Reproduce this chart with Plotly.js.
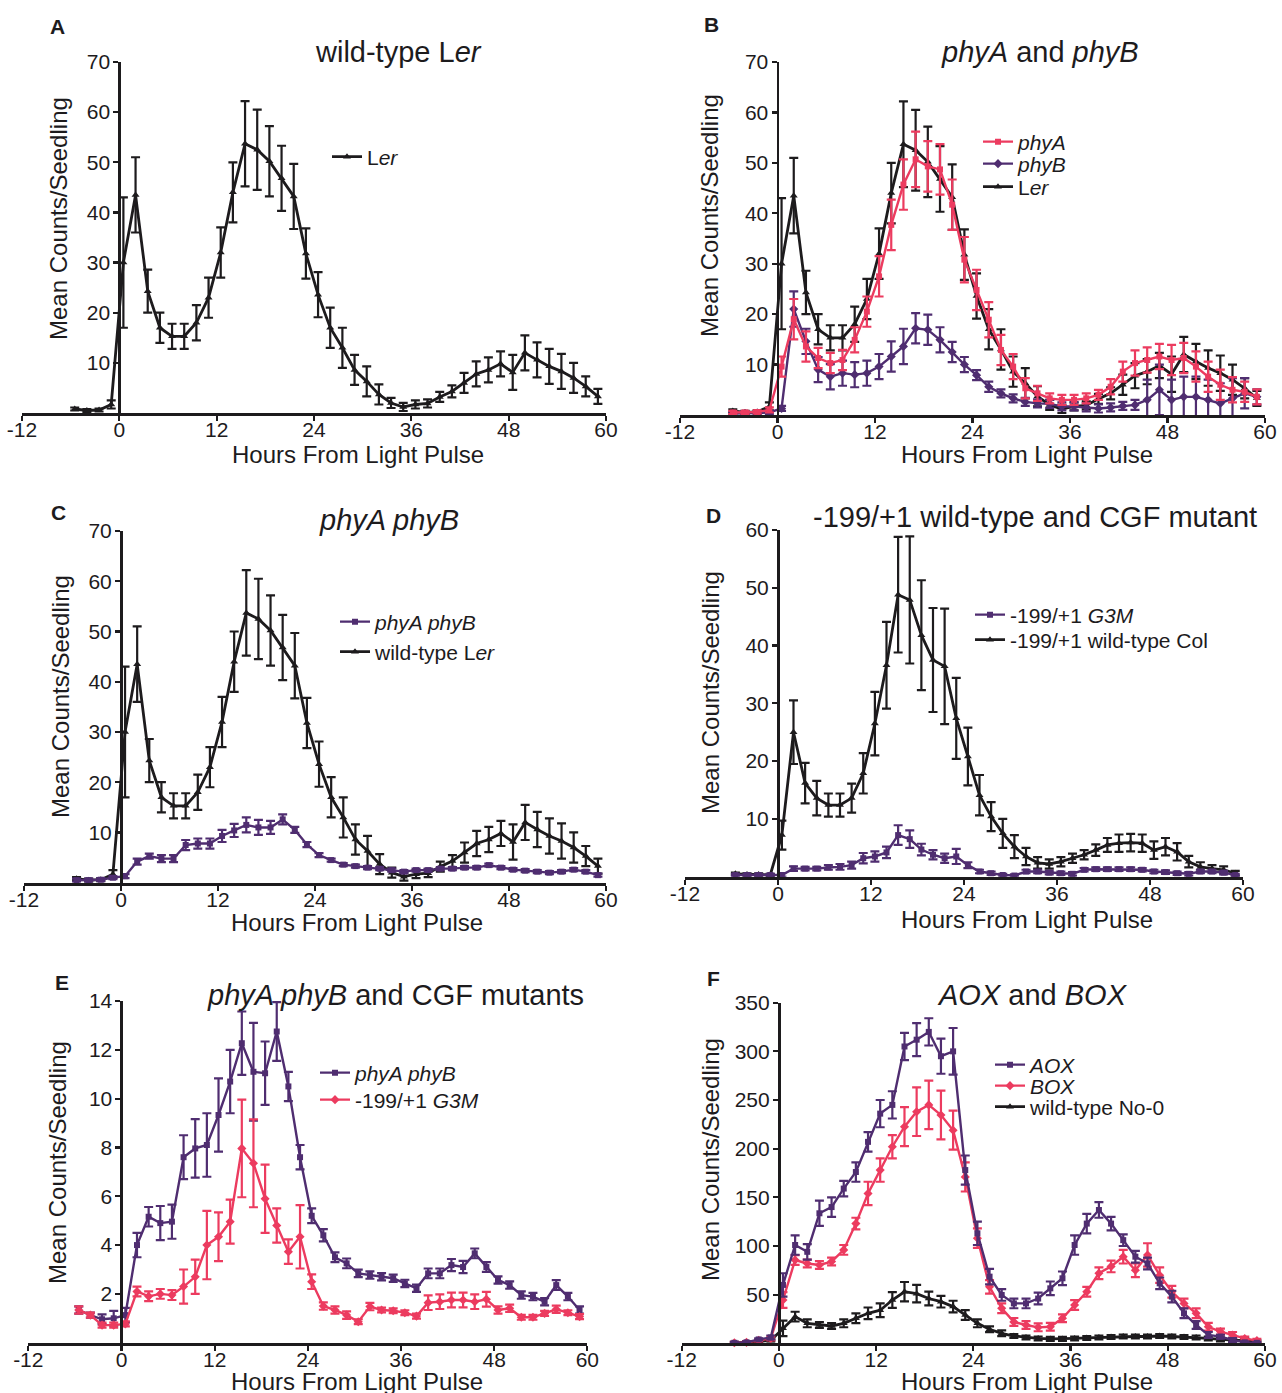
<!DOCTYPE html>
<html><head><meta charset="utf-8">
<script src="https://cdn.plot.ly/plotly-3.0.1.min.js"></script>
<style>html,body{margin:0;padding:0;background:#fff}</style>
</head><body><div id="chart" style="width:1282px;height:1393px"></div>
<script>
// ---------------- DATA ----------------
const hours = [-5.5, -4, -2.5, -1, 0.5, 2, 3.5, 5, 6.5, 8, 9.5, 11, 12.5, 14, 15.5, 17, 18.5, 20, 21.5, 23, 24.5, 26, 27.5, 29, 30.5, 32, 33.5, 35, 36.5, 38, 39.5, 41, 42.5, 44, 45.5, 47, 48.5, 50, 51.5, 53, 54.5, 56, 57.5, 59];
const xTicks = [-12, 0, 12, 24, 36, 48, 60];

// wild-type Ler (panels A, B, C)
const ler    = [0.8, 0.5, 0.6, 1.7, 30, 43.5, 24.3, 17, 15.3, 15.3, 18, 23, 32, 44, 53.7, 52.5, 50.2, 46.8, 43.2, 31.8, 23.6, 17, 13, 8.6, 6.3, 3.7, 2, 1.2, 1.7, 1.9, 3.2, 4.3, 6, 7.8, 8.6, 9.8, 8.1, 12, 10.6, 9.3, 8.3, 7, 5.3, 3.3];
const lerErr = [0.3, 0.3, 0.3, 0.8, 13, 7.5, 4.3, 3, 2.5, 2.5, 3.5, 4, 5, 6, 8.5, 8, 7, 6.5, 6.5, 5, 4.5, 4, 4, 3, 3, 2, 1, 0.8, 0.8, 0.8, 1, 1.2, 2, 2.5, 2.5, 2.5, 3.5, 3.5, 3.5, 3.5, 3.5, 3, 2, 1.5];

// panel B
const phyA    = [0.5, 0.5, 0.6, 1.0, 9.6, 19, 13.6, 11.3, 10.3, 10.9, 14.9, 20.5, 27.5, 37.7, 45.7, 50.7, 49.3, 48.7, 41.7, 30.8, 24.8, 18.9, 12.9, 9.6, 5.3, 4.3, 3.3, 3, 3, 3.3, 4, 5.6, 8.6, 10.3, 10.9, 11.6, 10.9, 11.3, 9.6, 7.6, 6, 5, 4.6, 3.6];
const phyAErr = [0.3, 0.3, 0.3, 0.5, 2, 4, 3, 2, 2, 2, 2.5, 3, 4, 5, 5, 5.5, 5, 5, 5, 4.5, 4, 3.5, 3, 2.5, 2, 1.5, 1, 1, 1, 1, 1, 1.5, 2, 2.5, 2.5, 2.5, 3, 3, 3, 3, 3, 2.5, 2, 1.5];
const phyB    = [0.3, 0.3, 0.4, 0.5, 1.3, 21, 14.6, 9, 7.6, 8.3, 8, 8.3, 9.6, 11.6, 13.6, 17.2, 16.9, 14.9, 12.5, 10, 7.9, 5.6, 4.3, 3.3, 2.6, 2.3, 2.2, 1.7, 1.7, 1.5, 1.3, 1.5, 1.8, 2, 3, 5, 3, 3.6, 3.6, 3, 2.3, 3.3, 4.3, 3.6];
const phyBErr = [0.3, 0.3, 0.3, 0.3, 0.5, 3.5, 2.5, 2.5, 2.5, 2.5, 2.5, 2.5, 2.5, 3, 3.5, 3, 3, 2.5, 2, 1.5, 1, 1, 0.8, 0.8, 0.8, 0.8, 0.8, 0.8, 0.8, 0.8, 0.8, 0.8, 0.8, 1, 4, 5, 4, 4, 4, 4, 4, 4, 3, 1.5];

// panel C : phyA phyB
const phyABc    = [0.5, 0.5, 0.6, 1.0, 1.3, 4.2, 5.3, 4.8, 4.8, 7.5, 7.8, 7.8, 9.3, 10.4, 11.5, 11, 11, 12.6, 10.5, 7.6, 5.5, 4.5, 3.6, 3.3, 3.0, 2.8, 2.5, 2.2, 2.5, 2.5, 2.8, 2.8, 3, 3, 3.5, 3, 2.6, 2.4, 2.2, 2, 2.2, 2.6, 2.2, 1.5];
const phyABcErr = [0.3, 0.3, 0.3, 0.3, 0.4, 0.6, 0.5, 0.7, 0.7, 1, 1, 1, 1.2, 1.3, 1.5, 1.5, 1.3, 1, 0.6, 0.5, 0.4, 0.3, 0.3, 0.3, 0.3, 0.3, 0.3, 0.3, 0.3, 0.3, 0.3, 0.3, 0.3, 0.3, 0.3, 0.3, 0.3, 0.3, 0.3, 0.3, 0.3, 0.3, 0.3, 0.3];

// panel D
const g3mD     = [0.3, 0.3, 0.3, 0.3, 0.3, 1.4, 1.4, 1.4, 1.6, 1.7, 2, 3.2, 3.5, 4.2, 7.2, 6.5, 4.7, 3.8, 3.2, 3.5, 2, 0.9, 0.6, 0.3, 0.2, 0.9, 0.9, 0.7, 0.6, 0.5, 1.2, 1.3, 1.3, 1.3, 1.3, 1.2, 0.9, 0.8, 0.6, 0.5, 0.9, 0.9, 0.7, 0.3];
const g3mDErr  = [0.2, 0.2, 0.2, 0.2, 0.3, 0.4, 0.3, 0.3, 0.4, 0.5, 0.6, 0.9, 0.9, 1, 1.7, 1.5, 1, 0.8, 0.8, 1.3, 0.5, 0.3, 0.3, 0.2, 0.2, 0.3, 0.3, 0.3, 0.3, 0.3, 0.3, 0.3, 0.3, 0.3, 0.3, 0.3, 0.3, 0.3, 0.3, 0.3, 0.3, 0.3, 0.3, 0.2];
const colWT    = [0.5, 0.4, 0.4, 0.3, 7.2, 25, 16.2, 13.6, 12.4, 12.4, 13.6, 17.9, 26.5, 36.6, 48.8, 47.9, 41.8, 37.5, 36.4, 27.4, 20.8, 14.1, 10.4, 7.5, 5.2, 3.5, 2.4, 2.2, 2.6, 3.2, 3.8, 4.6, 5.5, 5.8, 5.9, 5.8, 4.6, 5.2, 4.3, 2.6, 1.7, 1.4, 1.2, 0.6];
const colWTErr = [0.2, 0.2, 0.2, 0.2, 2.5, 5.5, 3.5, 3, 2, 2, 2.5, 3.5, 5.5, 7.5, 10, 11, 9.5, 9, 10, 7, 5, 3.5, 2.5, 2.5, 2, 1.5, 1, 0.8, 0.8, 0.8, 0.8, 1, 1.2, 1.5, 1.5, 1.5, 1.5, 1.5, 1.5, 1, 0.8, 0.6, 0.6, 0.4];

// panel E
const phyABe    = [1.34, 1.13, 0.96, 1.0, 1.13, 4.0, 5.16, 4.9, 4.96, 7.6, 7.96, 8.1, 9.33, 10.7, 12.27, 11.1, 11.04, 12.75, 10.5, 7.6, 5.2, 4.4, 3.5, 3.25, 2.84, 2.77, 2.7, 2.64, 2.43, 2.23, 2.84, 2.84, 3.18, 3.1, 3.66, 3.1, 2.57, 2.36, 1.95, 1.89, 1.68, 2.36, 1.89, 1.34];
const phyABeErr = [0.15, 0.1, 0.2, 0.3, 0.3, 0.5, 0.4, 0.7, 0.7, 0.9, 1.2, 1.3, 1.5, 1.3, 1.3, 2, 1.3, 1.2, 0.6, 0.5, 0.3, 0.25, 0.2, 0.2, 0.15, 0.15, 0.15, 0.15, 0.15, 0.15, 0.2, 0.2, 0.25, 0.25, 0.2, 0.2, 0.15, 0.15, 0.15, 0.15, 0.15, 0.2, 0.15, 0.15];
const g3mE      = [1.34, 1.13, 0.72, 0.72, 0.77, 2.1, 1.9, 2.0, 1.95, 2.3, 2.7, 4.0, 4.34, 4.96, 7.96, 7.35, 5.9, 4.8, 3.73, 4.34, 2.5, 1.5, 1.34, 1.13, 0.86, 1.48, 1.34, 1.31, 1.23, 1.09, 1.64, 1.68, 1.75, 1.75, 1.68, 1.78, 1.34, 1.41, 1.04, 1.04, 1.2, 1.37, 1.23, 1.07];
const g3mEErr   = [0.15, 0.1, 0.1, 0.1, 0.1, 0.2, 0.2, 0.2, 0.2, 0.7, 0.7, 1.4, 1.0, 0.9, 2.0, 1.8, 1.4, 0.7, 0.5, 1.3, 0.3, 0.15, 0.15, 0.15, 0.1, 0.15, 0.1, 0.1, 0.1, 0.1, 0.3, 0.3, 0.3, 0.3, 0.3, 0.3, 0.15, 0.15, 0.1, 0.1, 0.1, 0.15, 0.1, 0.1];

// panel F
const aox     = [0.5, 1, 4, 6, 60, 101, 94, 133.6, 140, 159, 176, 207, 236, 245, 305, 312, 320, 295, 300, 178, 113, 68.5, 49.7, 41, 41, 46, 56.5, 66.8, 101, 123, 137, 123, 106, 89, 82, 61.6, 48, 30.8, 18.8, 8.6, 6.8, 3.4, 1, 0.5];
const aoxErr  = [1, 1, 1, 2, 12, 10, 8, 13, 10, 8, 10, 10, 14, 14, 14, 17, 14, 18, 24, 15, 12, 8, 6, 5, 5, 6, 7, 7, 10, 10, 8, 7, 6, 6, 6, 6, 6, 5, 4, 3, 2, 2, 1, 1];
const box     = [0.5, 1, 3, 5, 44.5, 85.6, 82, 80.5, 84, 96, 123, 154, 178, 202, 222.6, 238, 245, 234.6, 219, 171, 108, 58, 36, 22, 18.8, 16.4, 17, 25.7, 39.4, 53, 72, 79, 89, 75, 90.8, 70, 53, 41, 30.8, 17, 12, 8.6, 5, 2.7];
const boxErr  = [1, 1, 1, 2, 8, 5, 4, 4, 4, 5, 6, 12, 12, 12, 20, 25, 25, 25, 20, 15, 10, 7, 5, 4, 4, 4, 4, 4, 5, 5, 6, 6, 7, 7, 12, 8, 6, 5, 5, 4, 3, 3, 2, 2];
const no0     = [0.5, 1, 2, 3, 15.4, 27.4, 20.5, 18.8, 17.8, 20.5, 25.7, 30.8, 34, 44.5, 53, 51, 46, 42.8, 37.7, 29, 20.5, 14.4, 10.3, 7.5, 6, 5, 4.5, 4.5, 5, 5.5, 6, 6.5, 7, 7, 7, 7.5, 7, 6.5, 6, 5, 4, 3.5, 3, 2];
const no0Err  = [1, 1, 1, 1, 8, 5, 4, 3, 3, 4, 5, 6, 7, 8, 10, 9, 7, 6, 6, 5, 4, 3, 3, 2, 2, 2, 2, 2, 2, 2, 2, 2, 2, 2, 2, 2, 2, 2, 2, 2, 2, 2, 2, 1];

// ---------------- STYLE / LAYOUT ----------------
const W = 1282, H = 1393;
const BLACK = '#1d1b1d', RED = '#ec3b5f', PURPLE = '#4f2d70';
const FONT = 'Liberation Sans, Arial, Helvetica, sans-serif';
const px = v => v / W, py = v => 1 - v / H;

// panel geometry (pixels): x of hour -12, x of hour 60, y of value 0, y of value max
const panels = [
  {x0: 22,    x1: 606,  yb: 413,    yt: 62,     ymax: 70,  yt_vals: [10,20,30,40,50,60,70]},
  {x0: 680,   x1: 1265, yb: 415,    yt: 62,     ymax: 70,  yt_vals: [10,20,30,40,50,60,70]},
  {x0: 24,    x1: 606,  yb: 882.7,  yt: 531,    ymax: 70,  yt_vals: [10,20,30,40,50,60,70]},
  {x0: 685,   x1: 1243, yb: 876.7,  yt: 530,    ymax: 60,  yt_vals: [10,20,30,40,50,60]},
  {x0: 28.3,  x1: 587.3,yb: 1342.7, yt: 1001,   ymax: 14,  yt_vals: [2,4,6,8,10,12,14]},
  {x0: 681.7, x1: 1265, yb: 1343.3, yt: 1002.7, ymax: 350, yt_vals: [50,100,150,200,250,300,350]}
];

const layout = {
  width: W, height: H,
  margin: {l: 0, r: 0, t: 0, b: 0},
  paper_bgcolor: '#ffffff', plot_bgcolor: 'rgba(0,0,0,0)',
  font: {family: FONT, color: BLACK, size: 20},
  hovermode: false,
  showlegend: true,
  annotations: []
};

panels.forEach((p, i) => {
  const n = i === 0 ? '' : String(i + 1);
  const xd = [px(p.x0), px(p.x1)];
  layout['xaxis' + n] = {
    domain: xd, range: [-12, 60], anchor: 'y' + n,
    tickvals: xTicks, ticktext: xTicks.map(String),
    showline: true, linewidth: 2.8, linecolor: BLACK,
    ticks: 'outside', ticklen: 5, tickwidth: 2.2, tickcolor: BLACK,
    ticklabelstandoff: -9,
    tickfont: {size: 21, family: FONT, color: BLACK},
    showgrid: false, zeroline: false, fixedrange: true
  };
  layout['yaxis' + n] = {
    domain: [py(p.yb), py(p.yt)], range: [0, p.ymax], anchor: 'free',
    position: xd[0] + (12 / 72) * (xd[1] - xd[0]),
    tickvals: p.yt_vals, ticktext: p.yt_vals.map(String),
    showline: true, linewidth: 2.8, linecolor: BLACK,
    ticks: 'outside', ticklen: 5, tickwidth: 2.2, tickcolor: BLACK,
    ticklabelstandoff: -1,
    tickfont: {size: 21, family: FONT, color: BLACK},
    showgrid: false, zeroline: false, fixedrange: true
  };
});

const traces = [];
let legendCount = 0;
function addSeries(panel, y, err, name, color, symbol, msize, lw, legPos) {
  const n = panel === 0 ? '' : String(panel + 1);
  const t = {
    type: 'scatter', mode: 'lines+markers', x: hours, y: y, name: name,
    xaxis: 'x' + n, yaxis: 'y' + n, cliponaxis: false,
    line: {color: color, width: lw},
    marker: {color: color, symbol: symbol, size: msize},
    error_y: {type: 'data', array: err, visible: true, color: color, thickness: 2.2, width: 4.5},
    showlegend: false
  };
  if (legPos) {
    legendCount += 1;
    const key = legendCount === 1 ? 'legend' : 'legend' + legendCount;
    t.showlegend = true;
    t.legend = key;
    layout[key] = {
      x: px(legPos[0] - 5), y: py(legPos[1]), xanchor: 'left', yanchor: 'middle',
      bgcolor: 'rgba(0,0,0,0)', borderwidth: 0,
      font: {size: 21, family: FONT, color: BLACK}
    };
  }
  traces.push(t);
}

// A
addSeries(0, ler, lerErr, 'L<i>er</i>', BLACK, 'triangle-up', 7, 2.8, [332, 157]);
// B
addSeries(1, ler, lerErr, 'L<i>er</i>', BLACK, 'triangle-up', 7, 2.8, null);
addSeries(1, phyB, phyBErr, '<i>phyB</i>', PURPLE, 'diamond', 7, 2.4, null);
addSeries(1, phyA, phyAErr, '<i>phyA</i>', RED, 'square', 6, 2.4, null);
// C
addSeries(2, ler, lerErr, 'wild-type L<i>er</i>', BLACK, 'triangle-up', 7, 2.8, null);
addSeries(2, phyABc, phyABcErr, '<i>phyA phyB</i>', PURPLE, 'square', 6, 2.4, null);
// D
addSeries(3, colWT, colWTErr, '-199/+1 wild-type Col', BLACK, 'triangle-up', 7, 2.8, null);
addSeries(3, g3mD, g3mDErr, '-199/+1 <i>G3M</i>', PURPLE, 'square', 6, 2.4, null);
// E
addSeries(4, phyABe, phyABeErr, '<i>phyA phyB</i>', PURPLE, 'square', 6, 2.4, null);
addSeries(4, g3mE, g3mEErr, '-199/+1 <i>G3M</i>', RED, 'diamond', 7, 2.4, null);
// F
addSeries(5, no0, no0Err, 'wild-type No-0', BLACK, 'triangle-up', 7, 2.8, null);
addSeries(5, box, boxErr, '<i>BOX</i>', RED, 'diamond', 7, 2.4, null);
addSeries(5, aox, aoxErr, '<i>AOX</i>', PURPLE, 'square', 6, 2.4, null);

// Legend entries (one legend per entry for exact placement)
function legendOnly(panel, name, color, symbol, msize, lw, pos) {
  const n = panel === 0 ? '' : String(panel + 1);
  legendCount += 1;
  const key = 'legend' + legendCount;
  layout[key] = {
    x: px(pos[0] - 5), y: py(pos[1]), xanchor: 'left', yanchor: 'middle',
    bgcolor: 'rgba(0,0,0,0)', borderwidth: 0,
    font: {size: 21, family: FONT, color: BLACK}
  };
  traces.push({
    type: 'scatter', mode: 'lines+markers', x: [null], y: [null], name: name,
    xaxis: 'x' + n, yaxis: 'y' + n, legend: key, showlegend: true,
    line: {color: color, width: lw}, marker: {color: color, symbol: symbol, size: msize}
  });
}
legendOnly(1, '<i>phyA</i>', RED, 'square', 6, 2.4, [983, 142]);
legendOnly(1, '<i>phyB</i>', PURPLE, 'diamond', 7, 2.4, [983, 164]);
legendOnly(1, 'L<i>er</i>', BLACK, 'triangle-up', 7, 2.8, [983, 187]);
legendOnly(2, '<i>phyA phyB</i>', PURPLE, 'square', 6, 2.4, [340, 622]);
legendOnly(2, 'wild-type L<i>er</i>', BLACK, 'triangle-up', 7, 2.8, [340, 652]);
legendOnly(3, '-199/+1 <i>G3M</i>', PURPLE, 'square', 6, 2.4, [975, 615]);
legendOnly(3, '-199/+1 wild-type Col', BLACK, 'triangle-up', 7, 2.8, [975, 640]);
legendOnly(4, '<i>phyA phyB</i>', PURPLE, 'square', 6, 2.4, [320, 1073]);
legendOnly(4, '-199/+1 <i>G3M</i>', RED, 'diamond', 7, 2.4, [320, 1100]);
legendOnly(5, '<i>AOX</i>', PURPLE, 'square', 6, 2.4, [995, 1065]);
legendOnly(5, '<i>BOX</i>', RED, 'diamond', 7, 2.4, [995, 1086]);
legendOnly(5, 'wild-type No-0', BLACK, 'triangle-up', 7, 2.8, [995, 1107]);

// Text annotations
function ann(text, x, y, size, opts) {
  layout.annotations.push(Object.assign({
    text: text, x: px(x), y: py(y), xref: 'paper', yref: 'paper',
    xanchor: 'center', yanchor: 'middle', showarrow: false,
    font: {size: size, family: FONT, color: BLACK}
  }, opts || {}));
}
const letters = [['A', 57, 26], ['B', 711, 25], ['C', 58, 512], ['D', 713, 515], ['E', 62, 982], ['F', 713, 978]];
letters.forEach(l => ann('<b>' + l[0] + '</b>', l[1], l[2], 21));
const titles = [
  ['wild-type L<i>er</i>', 398, 52],
  ['<i>phyA</i> and <i>phyB</i>', 1040, 52],
  ['<i>phyA phyB</i>', 389, 520],
  ['-199/+1 wild-type and CGF mutant', 1035, 517],
  ['<i>phyA phyB</i> and CGF mutants', 395, 995],
  ['<i>AOX</i> and <i>BOX</i>', 1032, 995]
];
titles.forEach(t => ann(t[0], t[1], t[2], 29));
const xTitles = [[358, 455], [1027, 455], [357, 922], [1027, 920], [357, 1381], [1027, 1381]];
xTitles.forEach(t => ann('Hours From Light Pulse', t[0], t[1], 24));
const yTitles = [[59, 219], [710, 216], [60, 697], [710, 693], [57, 1163], [710, 1160]];
yTitles.forEach(t => ann('Mean Counts/Seedling', t[0], t[1], 24, {textangle: -90}));

Plotly.newPlot('chart', traces, layout, {staticPlot: true, displayModeBar: false});
</script>
</body></html>
